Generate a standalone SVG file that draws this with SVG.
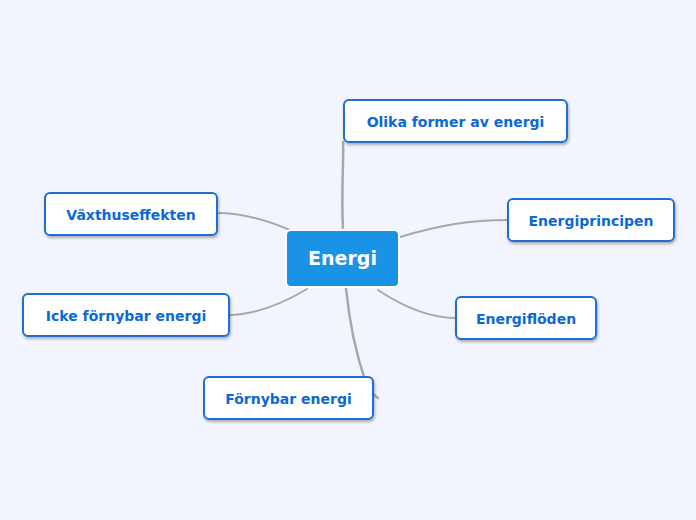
<svg xmlns="http://www.w3.org/2000/svg" width="696" height="520" viewBox="0 0 696 520">
<defs>
<filter id="sh" x="-10%" y="-20%" width="130%" height="160%"><feDropShadow dx="1" dy="2" stdDeviation="1.5" flood-color="#000" flood-opacity="0.3"/></filter>
</defs>
<style>
.n rect{fill:#fff;stroke:#1a6fd4;stroke-width:2;filter:url(#sh)}
.n text{font-family:"DejaVu Sans",sans-serif;font-weight:bold;font-size:14px;fill:#0b69d6;text-anchor:middle}
.c path{fill:none;stroke:#a8a8a8;stroke-linecap:round}
</style>
<rect width="696" height="520" fill="#f2f5fe"/>
<g class="c">
<path d="M343,230 C341,190 344,160 343,142" stroke-width="2.5"/>
<path d="M400,237 C440,225 470,220 508,220" stroke-width="2"/>
<path d="M378,290 C405,308 430,318 456,318" stroke-width="2"/>
<path d="M290,230 C262,218 240,213 217,213" stroke-width="2"/>
<path d="M307,289 C280,305 255,315 229,315" stroke-width="2"/>
<path d="M346,288 C350,330 358,360 366,383 C370,392 375,396 378,398" stroke-width="2.5"/>
</g>
<g id="center"><rect x="286" y="230" width="113" height="57" rx="5" fill="#1a93e6" stroke="#fff" stroke-width="2"/>
<text x="342.5" y="265" font-family="DejaVu Sans,sans-serif" font-weight="bold" font-size="19" fill="#fff" text-anchor="middle">Energi</text></g>
<g id="n1" class="n"><rect x="344" y="100" width="223" height="42" rx="5"/><text x="455.5" y="127">Olika former av energi</text></g>
<g id="n2" class="n"><rect x="508" y="199" width="166" height="42" rx="5"/><text x="591" y="226">Energiprincipen</text></g>
<g id="n3" class="n"><rect x="456" y="297" width="140" height="42" rx="5"/><text x="526" y="324">Energiflöden</text></g>
<g id="n4" class="n"><rect x="45" y="193" width="172" height="42" rx="5"/><text x="131" y="220">Växthuseffekten</text></g>
<g id="n5" class="n"><rect x="23" y="294" width="206" height="42" rx="5"/><text x="126" y="321">Icke förnybar energi</text></g>
<g id="n6" class="n"><rect x="204" y="377" width="169" height="42" rx="5"/><text x="288.5" y="404">Förnybar energi</text></g>
</svg>
